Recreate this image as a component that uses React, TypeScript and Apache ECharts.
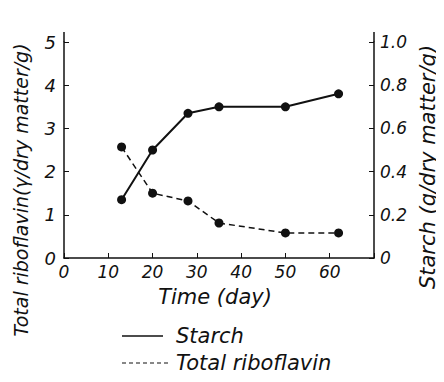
import React, { useEffect, useRef } from "react";
import * as echarts from "echarts";

const days = [13, 20, 28, 35, 50, 62];
const starch = [0.27, 0.5, 0.67, 0.7, 0.7, 0.76];
const riboflavin = [2.57, 1.5, 1.32, 0.81, 0.58, 0.58];
const xTicks = [0, 10, 20, 30, 40, 50, 60];

const FONT = "DejaVu Sans";

export default function App() {
  const ref = useRef<HTMLDivElement>(null);
  useEffect(() => {
    const chart = echarts.init(ref.current!, null, { renderer: "svg" });
    const txt = { fontFamily: FONT, fontStyle: "italic" as const, color: "#111", fontSize: 17 };
    chart.setOption({
      animation: false,
      backgroundColor: "#fff",
      grid: { left: 64, right: 70, top: 42, bottom: 124 },
      xAxis: {
        type: "value",
        min: 0,
        max: 70,
        interval: 10,
        axisLine: { lineStyle: { color: "#111", width: 1.5 } },
        axisTick: { inside: true, length: 5, lineStyle: { color: "#111" } },
        splitLine: { show: false },
        axisLabel: {
          ...txt,
          margin: 5,
          formatter: (v: number) => (xTicks.includes(v) ? String(v) : ""),
        },
      },
      yAxis: [
        {
          type: "value",
          min: 0,
          max: 5,
          interval: 1,
          position: "left",
          axisLine: { show: true, lineStyle: { color: "#111", width: 1.5 } },
          axisTick: { show: true, inside: true, length: 5, lineStyle: { color: "#111" } },
          splitLine: { show: false },
          axisLabel: { ...txt, fontSize: 18, margin: 8 },
        },
        {
          type: "value",
          min: 0,
          max: 1,
          interval: 0.2,
          position: "right",
          axisLine: { show: true, lineStyle: { color: "#111", width: 1.5 } },
          axisTick: { show: true, inside: true, length: 5, lineStyle: { color: "#111" } },
          splitLine: { show: false },
          axisLabel: {
            ...txt,
            fontSize: 17,
            margin: 6,
            formatter: (v: number) => (v === 0 ? "0" : v.toFixed(1)),
          },
        },
      ],
      series: [
        {
          name: "Starch",
          type: "line",
          yAxisIndex: 1,
          data: days.map((d, i) => [d, starch[i]]),
          symbol: "circle",
          symbolSize: 9,
          itemStyle: { color: "#111" },
          lineStyle: { color: "#111", width: 2 },
        },
        {
          name: "Total riboflavin",
          type: "line",
          yAxisIndex: 0,
          data: days.map((d, i) => [d, riboflavin[i]]),
          symbol: "circle",
          symbolSize: 9,
          itemStyle: { color: "#111" },
          lineStyle: { color: "#111", width: 1.5, type: [6, 4] },
        },
      ],
      graphic: [
        {
          type: "line",
          shape: { x1: 64, y1: 42, x2: 64, y2: 32 },
          style: { stroke: "#111", lineWidth: 1.5 },
        },
        {
          type: "line",
          shape: { x1: 374, y1: 42, x2: 374, y2: 32 },
          style: { stroke: "#111", lineWidth: 1.5 },
        },
        {
          type: "text",
          x: 21,
          y: 190,
          rotation: Math.PI / 2,
          style: {
            text: "Total riboflavin(γ/dry matter/g)",
            font: `italic 19px "${FONT}"`,
            fill: "#111",
            align: "center",
            verticalAlign: "middle",
          },
        },
        {
          type: "text",
          x: 428,
          y: 167,
          rotation: Math.PI / 2,
          style: {
            text: "Starch (g/dry matter/g)",
            font: `italic 21px "${FONT}"`,
            fill: "#111",
            align: "center",
            verticalAlign: "middle",
          },
        },
        {
          type: "text",
          x: 215,
          y: 297,
          style: {
            text: "Time (day)",
            font: `italic 21px "${FONT}"`,
            fill: "#111",
            align: "center",
            verticalAlign: "middle",
          },
        },
        {
          type: "line",
          shape: { x1: 122, y1: 336, x2: 163, y2: 336 },
          style: { stroke: "#111", lineWidth: 1.5 },
        },
        {
          type: "text",
          x: 176,
          y: 336,
          style: {
            text: "Starch",
            font: `italic 21px "${FONT}"`,
            fill: "#111",
            align: "left",
            verticalAlign: "middle",
          },
        },
        {
          type: "line",
          shape: { x1: 122, y1: 363, x2: 168, y2: 363 },
          style: { stroke: "#111", lineWidth: 1.2, lineDash: [4, 3] },
        },
        {
          type: "text",
          x: 176,
          y: 363,
          style: {
            text: "Total riboflavin",
            font: `italic 21px "${FONT}"`,
            fill: "#111",
            align: "left",
            verticalAlign: "middle",
          },
        },
      ],
    });
    return () => chart.dispose();
  }, []);
  return <div ref={ref} style={{ width: 444, height: 382, margin: -8 }} />;
}
